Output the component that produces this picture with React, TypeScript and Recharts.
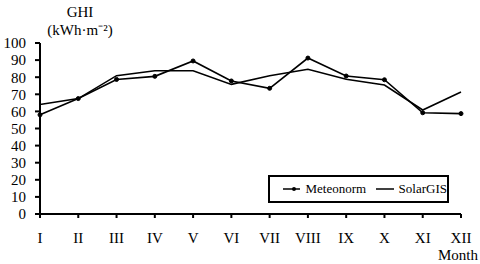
import React from "react";
import { LineChart, Line, XAxis, YAxis, Legend } from "recharts";

const months = ["I", "II", "III", "IV", "V", "VI", "VII", "VIII", "IX", "X", "XI", "XII"];
const meteonorm = [58, 67.5, 78.7, 80.5, 89.5, 77.8, 73.5, 91.2, 80.7, 78.5, 59.2, 58.7];
const solarGIS = [64, 67.5, 80.9, 83.8, 83.8, 75.8, 80.9, 84.6, 78.8, 75.4, 60.8, 71.3];
const yTicks = [0, 10, 20, 30, 40, 50, 60, 70, 80, 90, 100];

const data = months.map((m, i) => ({ month: m, meteonorm: meteonorm[i], solarGIS: solarGIS[i] }));

const FONT = '"Liberation Serif", "Times New Roman", serif';

const LegendContent = () => (
  <div
    style={{
      border: "2px solid #000",
      width: 181,
      height: 28,
      boxSizing: "border-box",
      display: "flex",
      alignItems: "center",
      fontFamily: FONT,
      fontSize: 13,
      color: "#000",
      background: "#fff",
    }}
  >
    <svg width={22} height={10} style={{ marginLeft: 13 }}>
      <line x1={0} y1={5} x2={22} y2={5} stroke="#000" strokeWidth={1.5} />
      <circle cx={11} cy={5} r={2} fill="#000" />
    </svg>
    <span style={{ marginLeft: 5 }}>Meteonorm</span>
    <svg width={22} height={10} style={{ marginLeft: 10 }}>
      <line x1={0} y1={5} x2={22} y2={5} stroke="#000" strokeWidth={1.5} />
    </svg>
    <span style={{ marginLeft: 5 }}>SolarGIS</span>
  </div>
);

const YTitle = (props: any) => {
  const vb = props.viewBox || { x: 0, y: 43 };
  const cx = vb.x + 80;
  return (
    <text x={cx} y={vb.y - 26} textAnchor="middle" fontFamily={FONT} fontSize={15} fill="#000">
      <tspan x={cx} dy={0}>GHI</tspan>
      <tspan x={cx} dy={18}>(kWh·m⁻²)</tspan>
    </text>
  );
};

const XTitle = (props: any) => {
  const vb = props.viewBox || { x: 40, y: 214, width: 421 };
  return (
    <text x={vb.x + vb.width + 17} y={vb.y + 46} textAnchor="end" fontFamily={FONT} fontSize={15} fill="#000">
      Month
    </text>
  );
};

export default function App() {
  return (
    <div style={{ position: "absolute", left: 0, top: 0, width: 480, height: 264, background: "#fff" }}>
      <LineChart width={480} height={264} data={data} margin={{ top: 43, right: 19, bottom: 0, left: 0 }}>
        <XAxis
          dataKey="month"
          interval={0}
          height={50}
          tickSize={4}
          tickMargin={14}
          axisLine={{ stroke: "#000", strokeWidth: 2 }}
          tickLine={{ stroke: "#000", strokeWidth: 2 }}
          tick={{ fill: "#000", fontFamily: FONT, fontSize: 15 }}
          label={<XTitle />}
        />
        <XAxis
          xAxisId="top"
          orientation="top"
          height={0}
          tick={false}
          tickLine={false}
          axisLine={{ stroke: "#000", strokeWidth: 2 }}
        />
        <YAxis
          domain={[0, 100]}
          ticks={yTicks}
          interval={0}
          width={40}
          tickSize={5}
          tickMargin={9}
          axisLine={{ stroke: "#000", strokeWidth: 2 }}
          tickLine={{ stroke: "#000", strokeWidth: 2 }}
          tick={{ fill: "#000", fontFamily: FONT, fontSize: 15 }}
          label={<YTitle />}
        />
        <YAxis
          yAxisId="r"
          orientation="right"
          width={0}
          tick={false}
          tickLine={false}
          axisLine={{ stroke: "#000", strokeWidth: 2 }}
        />
        <Legend
          content={<LegendContent />}
          layout="horizontal"
          verticalAlign="middle"
          align="center"
          wrapperStyle={{ left: 268, top: 175, width: 181 }}
        />
        <Line
          type="linear"
          dataKey="meteonorm"
          stroke="#000"
          strokeWidth={1.6}
          dot={{ r: 2, fill: "#000", stroke: "#000", strokeWidth: 1 }}
          isAnimationActive={false}
        />
        <Line
          type="linear"
          dataKey="solarGIS"
          stroke="#000"
          strokeWidth={1.6}
          dot={false}
          isAnimationActive={false}
        />
      </LineChart>
    </div>
  );
}
